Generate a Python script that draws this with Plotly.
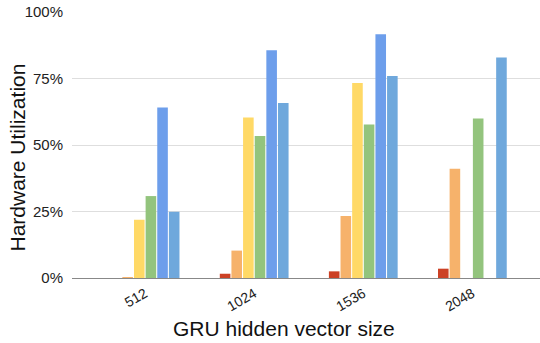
import plotly.graph_objects as go

# GRU hidden vector sizes on the x axis
sizes = ["512", "1024", "1536", "2048"]

# Hardware utilization per configuration (fraction of peak); None = not measured
series_a = [None, 0.016, 0.025, 0.035]
series_b = [0.003, 0.103, 0.233, 0.411]
series_c = [0.219, 0.603, 0.733, None]
series_d = [0.308, 0.534, 0.577, 0.600]
series_e = [0.641, 0.856, 0.916, None]
series_f = [0.249, 0.658, 0.759, 0.829]

series = [series_a, series_b, series_c, series_d, series_e, series_f]
colors = ["#cc4125", "#f6b26b", "#ffd966", "#93c47d", "#6d9eeb", "#6fa8dc"]

x_title = "GRU hidden vector size"
y_title = "Hardware Utilization"

fig = go.Figure()
for vals, col in zip(series, colors):
    fig.add_trace(go.Bar(
        x=sizes, y=vals, marker=dict(color=col, line=dict(width=0)),
        showlegend=False,
    ))

font = "Liberation Sans, Arial, sans-serif"
fig.update_layout(
    width=540, height=343,
    margin=dict(l=72, r=0, t=12, b=65),
    paper_bgcolor="white", plot_bgcolor="white",
    barmode="group", bargap=0.36, bargroupgap=0.09,
    font=dict(family=font, color="#222"),
    xaxis=dict(
        type="category", range=[-0.67, 3.62],
        tickangle=-30, tickfont=dict(size=14, color="#222"),
        showgrid=False, ticks="", showline=False, ticklabelstandoff=4,
    ),
    yaxis=dict(
        range=[0, 1.0], tickvals=[0, 0.25, 0.5, 0.75, 1.0], tickformat=".0%",
        tickfont=dict(size=15, color="#222"),
        showgrid=True, gridcolor="#dedede", gridwidth=1,
        zeroline=True, zerolinecolor="#888888", zerolinewidth=1,
        ticks="", ticklabelstandoff=8,
    ),
    annotations=[
        dict(text=x_title, xref="paper", yref="paper", x=0.453, y=-0.188,
             xanchor="center", yanchor="middle", showarrow=False,
             font=dict(size=21, color="#111")),
        dict(text=y_title, xref="paper", yref="paper", x=-0.1154, y=0.453,
             xanchor="center", yanchor="middle", textangle=-90, showarrow=False,
             font=dict(size=21, color="#111")),
    ],
)

fig.write_html("out.html")
